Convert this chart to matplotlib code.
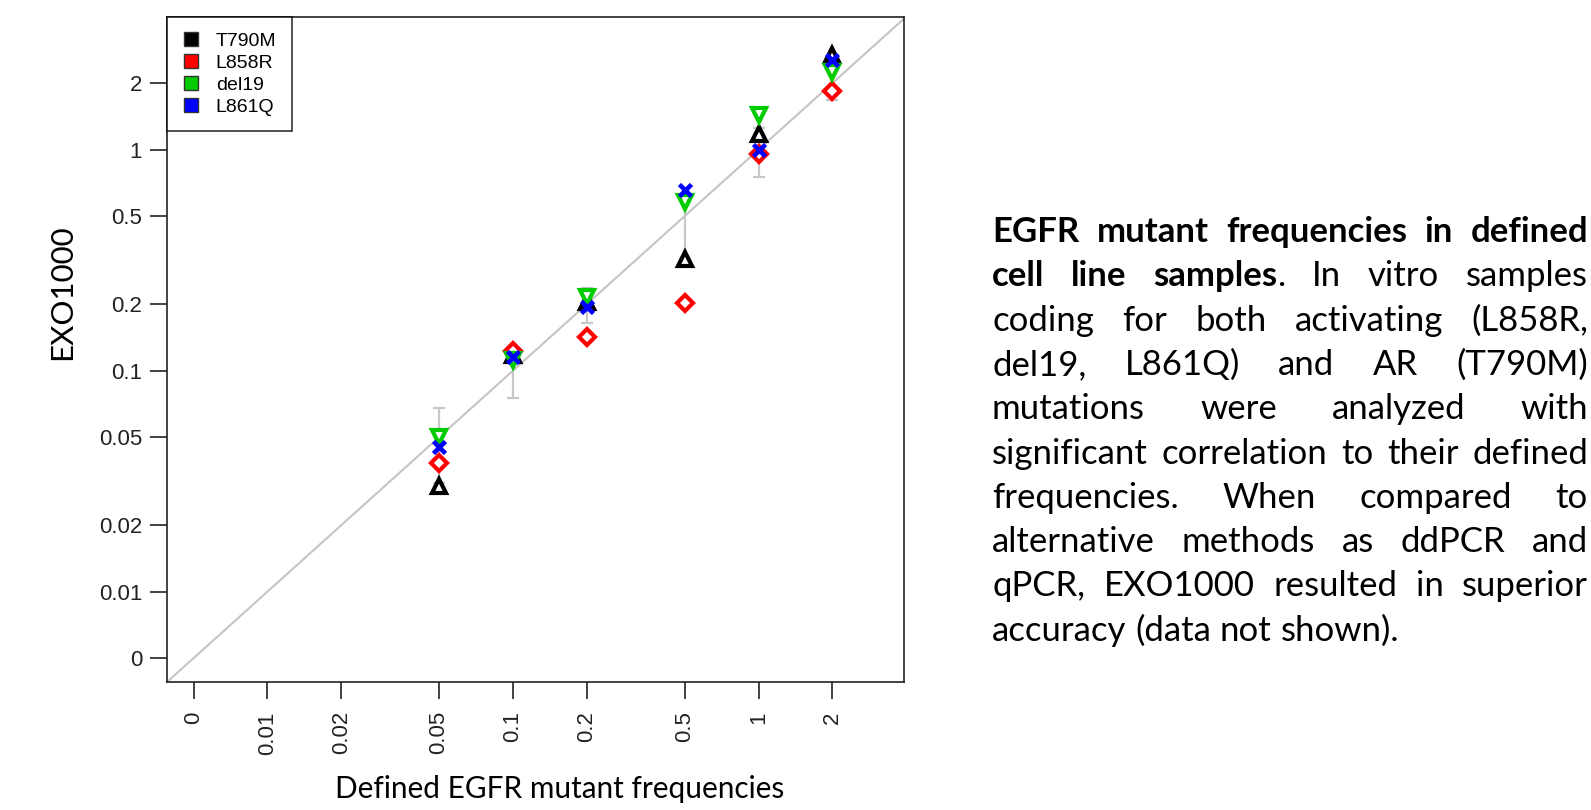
import matplotlib
matplotlib.use('Agg')
import matplotlib.pyplot as plt
from matplotlib.lines import Line2D
from matplotlib.ticker import NullLocator
from matplotlib.transforms import IdentityTransform

# defined frequencies (x) and measured EXO1000 values per mutation
defined = [0.05, 0.1, 0.2, 0.5, 1, 2]
t790m = [0.030, 0.118, 0.205, 0.32, 1.18, 2.67]
l858r = [0.038, 0.123, 0.142, 0.202, 0.955, 1.85]
del19 = [0.050, 0.112, 0.215, 0.578, 1.43, 2.24]
l861q = [0.045, 0.115, 0.194, 0.658, 1.0, 2.53]

# grey error bars (low / high) at each defined frequency
err_low = [0.031, 0.075, 0.164, 0.32, 0.75, 1.67]
err_high = [0.068, 0.12, 0.237, 0.62, 1.25, 2.6]

tick_values = [0.005, 0.01, 0.02, 0.05, 0.1, 0.2, 0.5, 1, 2]
tick_labels = ['0', '0.01', '0.02', '0.05', '0.1', '0.2', '0.5', '1', '2']

series = [
    ('T790M', t790m, 'black', '^'),
    ('L858R', l858r, '#ff0000', 'D'),
    ('del19', del19, '#00cc00', 'v'),
    ('L861Q', l861q, '#0000ff', 'x'),
]

# caption text, one list per line, each word split in (text, bold) parts
caption_lines = [
    [[('EGFR', True)], [('mutant', True)], [('frequencies', True)], [('in', True)], [('defined', True)]],
    [[('cell', True)], [('line', True)], [('samples', True), ('.', False)], [('In', False)], [('vitro', False)], [('samples', False)]],
    [[('coding', False)], [('for', False)], [('both', False)], [('activating', False)], [('(L858R,', False)]],
    [[('del19,', False)], [('L861Q)', False)], [('and', False)], [('AR', False)], [('(T790M)', False)]],
    [[('mutations', False)], [('were', False)], [('analyzed', False)], [('with', False)]],
    [[('significant', False)], [('correlation', False)], [('to', False)], [('their', False)], [('defined', False)]],
    [[('frequencies.', False)], [('When', False)], [('compared', False)], [('to', False)]],
    [[('alternative', False)], [('methods', False)], [('as', False)], [('ddPCR', False)], [('and', False)]],
    [[('qPCR,', False)], [('EXO1000', False)], [('resulted', False)], [('in', False)], [('superior', False)]],
    [[('accuracy', False)], [('(data', False)], [('not', False)], [('shown).', False)]],
]

TEXT_FONT = 'Lato'
TICK_FONT = 'Liberation Sans'

fig = plt.figure(figsize=(15.91, 8.10), dpi=100)
renderer = fig.canvas.get_renderer()


def fit_size(text, width_px, bold=False):
    probe = fig.text(0, 0, text, fontsize=20, family=TEXT_FONT,
                     fontweight='bold' if bold else 'normal', transform=IdentityTransform())
    w = probe.get_window_extent(renderer).width
    probe.remove()
    return 20 * width_px / w


# caption size chosen so the last (left aligned) line is about 406 px wide
text_size = fit_size('accuracy (data not shown).', 406)

ax = fig.add_axes([0.105, 0.158, 0.463, 0.821])
ax.set_xscale('log')
ax.set_yscale('log')
ax.set_xlim(0.0039, 3.9)
ax.set_ylim(0.0039, 3.98)

ax.axline((0.01, 0.01), (1, 1), color='#c4c4c4', lw=1.5, zorder=1)

ax.errorbar(defined, err_low,
            yerr=[[0] * len(defined), [h - l for l, h in zip(err_low, err_high)]],
            fmt='none', ecolor='#c8c8c8', elinewidth=1.6, capsize=4.5, capthick=1.6, zorder=2)

for name, values, color, marker in series:
    if marker == 'x':
        ax.plot(defined, values, ls='none', marker='x', ms=8.5, mew=3.3, color=color, zorder=3)
    else:
        ms = 8.5 if marker == 'D' else 10.5
        ax.plot(defined, values, ls='none', marker=marker, ms=ms, mew=3,
                mec=color, mfc='white', zorder=3)

ax.xaxis.set_minor_locator(NullLocator())
ax.yaxis.set_minor_locator(NullLocator())
ax.set_xticks(tick_values)
ax.set_xticklabels(tick_labels, rotation=90, family=TICK_FONT, fontsize=16, color='#222222')
ax.set_yticks(tick_values)
ax.set_yticklabels(tick_labels, family=TICK_FONT, fontsize=16, color='#222222')
ax.tick_params(axis='both', which='major', length=12, width=1.2, color='#222222', pad=6)
ax.tick_params(axis='x', pad=9)
for spine in ax.spines.values():
    spine.set_linewidth(1.2)
    spine.set_color('#222222')

handles = [Line2D([], [], ls='none', marker='s', ms=10, mfc=color, mec='#333333', mew=1)
           for _, _, color, _ in series]
leg = ax.legend(handles, [s[0] for s in series], loc='upper left', borderaxespad=0,
                prop={'family': TICK_FONT, 'size': 14}, frameon=True, fancybox=False,
                handlelength=0.9, handletextpad=0.8, labelspacing=0.22,
                borderpad=0.8)
leg.get_frame().set_edgecolor('black')
leg.get_frame().set_linewidth(1.2)

# axis titles (placed in pixel coordinates)
fig.text(560, 810 - 789, 'Defined EGFR mutant frequencies', family=TEXT_FONT,
         fontsize=fit_size('Defined EGFR mutant frequencies', 450),
         ha='center', va='center', transform=IdentityTransform())
fig.text(62, 810 - 292, 'EXO1000', family=TEXT_FONT, fontsize=text_size * 0.9,
         rotation=90, ha='center', va='center', transform=IdentityTransform())

# justified caption on the right
left_px, right_px = 992, 1588
first_baseline = 810 - 242
pitch = 44.3
a1 = fig.text(0, 0, 'a a', fontsize=text_size, family=TEXT_FONT, transform=IdentityTransform())
a2 = fig.text(0, 0, 'aa', fontsize=text_size, family=TEXT_FONT, transform=IdentityTransform())
space = a1.get_window_extent(renderer).width - a2.get_window_extent(renderer).width
a1.remove()
a2.remove()

for i, words in enumerate(caption_lines):
    y = first_baseline - i * pitch
    placed = []
    for word in words:
        parts = []
        for seg, bold in word:
            t = fig.text(0, y, seg, fontsize=text_size, family=TEXT_FONT,
                         fontweight='bold' if bold else 'normal', va='baseline',
                         transform=IdentityTransform())
            parts.append((t, t.get_window_extent(renderer).width))
        placed.append(parts)
    widths = [sum(w for _, w in parts) for parts in placed]
    if i < len(caption_lines) - 1:
        gap = (right_px - left_px - sum(widths)) / (len(placed) - 1)
    else:
        gap = space
    x = left_px
    for parts, w in zip(placed, widths):
        for t, tw in parts:
            t.set_x(x)
            x += tw
        x += gap

fig.savefig('out.png', dpi=100)
